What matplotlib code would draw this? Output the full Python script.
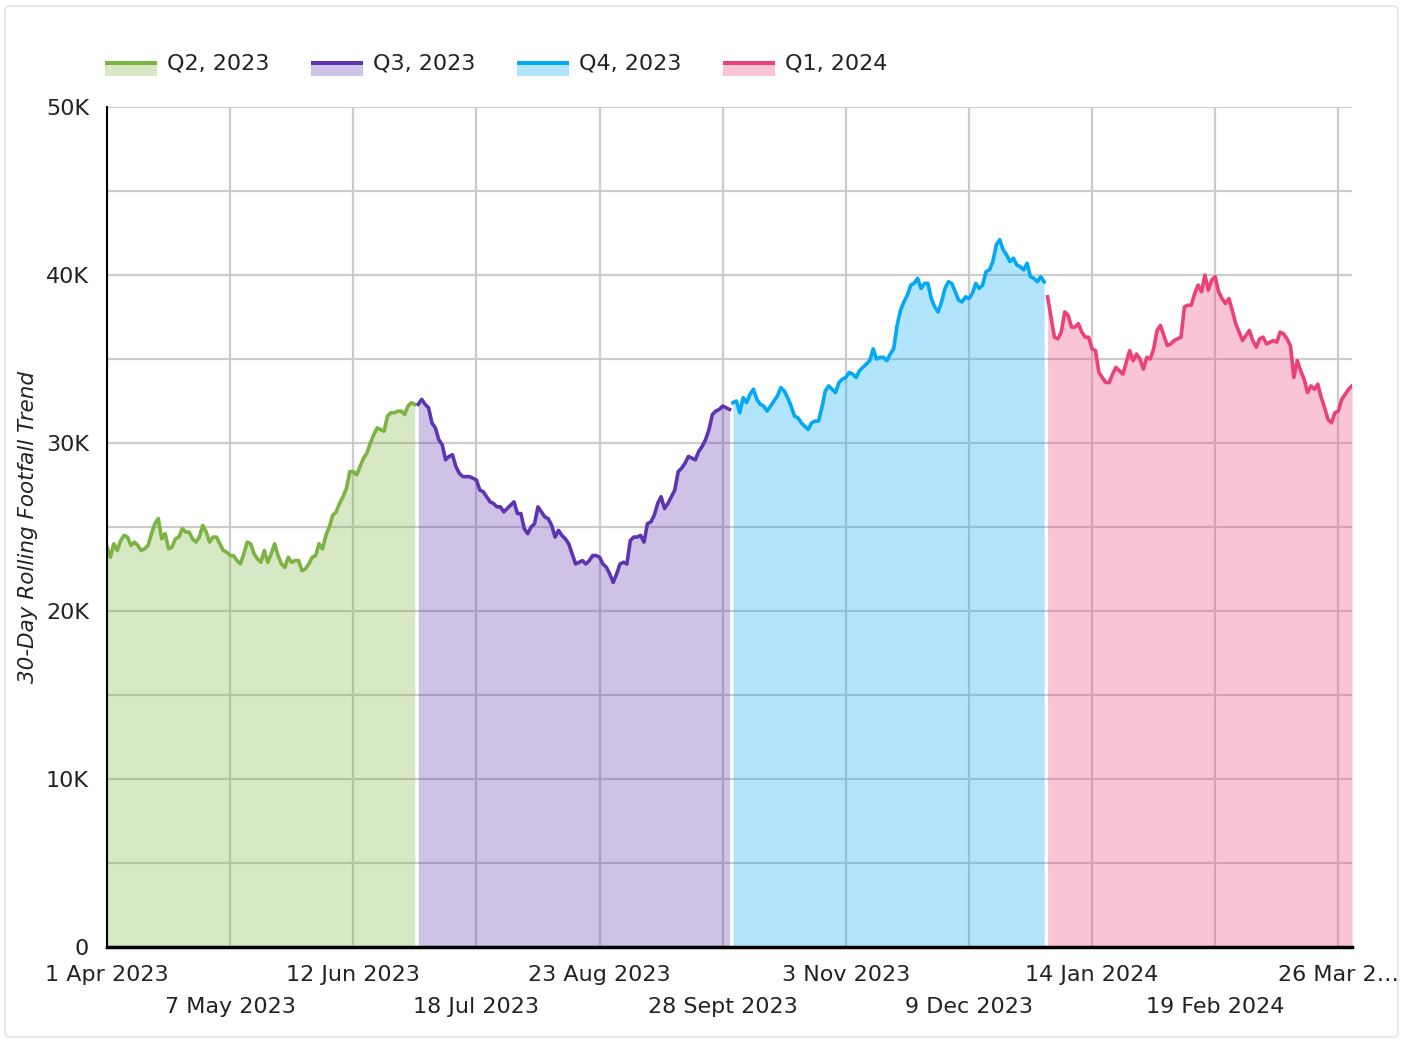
import numpy as np
import pandas as pd
import matplotlib
matplotlib.use('Agg')
import matplotlib.pyplot as plt
from matplotlib.patches import Rectangle, FancyBboxPatch

plt.rcParams['font.family'] = ['DejaVu Sans']

# quarters shown in the chart
quarters = ['Q2, 2023', 'Q3, 2023', 'Q4, 2023', 'Q1, 2024']
quarter_starts = ['2023-04-01', '2023-07-01', '2023-10-01', '2024-01-01']
colors = ['#7cb342', '#5e35b1', '#03a9f4', '#ec407a']

# 30-day rolling footfall, thousands, one value per day
q2_2023 = [23.8, 23.2, 24.0, 23.6, 24.2, 24.5, 24.4, 23.9, 24.1, 23.9, 23.6, 23.7, 23.9, 24.6, 25.2,
           25.5, 24.3, 24.6, 23.7, 23.8, 24.3, 24.4, 24.9, 24.7, 24.7, 24.3, 24.1, 24.4, 25.1, 24.7,
           24.1, 24.4, 24.4, 24.0, 23.6, 23.5, 23.3, 23.3, 23.0, 22.8, 23.4, 24.1, 24.0, 23.4, 23.1,
           22.9, 23.6, 22.9, 23.4, 24.0, 23.3, 22.8, 22.6, 23.2, 22.9, 23.0, 23.0, 22.4, 22.5, 22.8,
           23.2, 23.3, 24.0, 23.7, 24.5, 25.0, 25.7, 25.9, 26.4, 26.8, 27.3, 28.3, 28.3, 28.1, 28.6,
           29.1, 29.4, 30.0, 30.5, 30.9, 30.8, 30.7, 31.6, 31.8, 31.8, 31.9, 31.9, 31.7, 32.2, 32.4,
           32.3]
q3_2023 = [32.3, 32.6, 32.3, 32.1, 31.2, 30.9, 30.2, 29.9, 29.0, 29.2, 29.3, 28.6, 28.2, 28.0, 28.0,
           28.0, 27.9, 27.8, 27.2, 27.1, 26.8, 26.5, 26.4, 26.2, 26.2, 25.9, 26.1, 26.3, 26.5, 25.8,
           25.8, 24.9, 24.6, 25.0, 25.2, 26.2, 25.9, 25.6, 25.5, 25.1, 24.4, 24.8, 24.5, 24.3, 24.0,
           23.4, 22.8, 22.9, 23.0, 22.8, 23.0, 23.3, 23.3, 23.2, 22.8, 22.6, 22.2, 21.7, 22.2, 22.8,
           22.9, 22.8, 24.2, 24.4, 24.4, 24.5, 24.1, 25.2, 25.3, 25.7, 26.4, 26.8, 26.1, 26.4, 26.8,
           27.2, 28.3, 28.5, 28.8, 29.2, 29.1, 29.0, 29.5, 29.8, 30.2, 30.8, 31.7, 31.9, 32.0, 32.2,
           32.1, 32.0]
q4_2023 = [32.4, 32.5, 31.8, 32.7, 32.4, 32.9, 33.2, 32.6, 32.3, 32.2, 31.9, 32.2, 32.5, 32.8, 33.3,
           33.1, 32.7, 32.2, 31.6, 31.5, 31.2, 31.0, 30.8, 31.2, 31.3, 31.3, 32.1, 33.1, 33.4, 33.2,
           33.0, 33.6, 33.8, 33.9, 34.2, 34.1, 33.9, 34.3, 34.5, 34.7, 34.9, 35.6, 35.0, 35.1, 35.1,
           34.9, 35.3, 35.6, 37.0, 37.9, 38.4, 38.8, 39.4, 39.5, 39.8, 39.2, 39.5, 39.5, 38.6, 38.1,
           37.8, 38.4, 39.2, 39.6, 39.5, 39.0, 38.5, 38.4, 38.7, 38.6, 38.9, 39.5, 39.2, 39.4, 40.2,
           40.3, 40.8, 41.8, 42.1, 41.5, 41.2, 40.8, 41.0, 40.6, 40.5, 40.3, 40.7, 39.9, 39.8, 39.6,
           39.9, 39.6]
q1_2024 = [38.7, 37.5, 36.3, 36.2, 36.6, 37.8, 37.6, 36.9, 36.9, 37.1, 36.6, 36.3, 36.3, 35.6, 35.5,
           34.2, 33.9, 33.6, 33.6, 34.1, 34.5, 34.3, 34.1, 34.8, 35.5, 34.9, 35.3, 35.0, 34.4, 35.1,
           35.0, 35.6, 36.7, 37.0, 36.4, 35.8, 35.9, 36.1, 36.2, 36.3, 38.1, 38.2, 38.2, 38.9, 39.4,
           39.0, 40.0, 39.1, 39.7, 39.9, 39.0, 38.6, 38.3, 38.6, 37.9, 37.1, 36.6, 36.1, 36.4, 36.7,
           36.1, 35.7, 36.2, 36.3, 35.9, 36.0, 36.1, 36.0, 36.6, 36.5, 36.2, 35.8, 33.9, 34.9, 34.3,
           33.8, 33.0, 33.4, 33.2, 33.5, 32.7, 32.1, 31.4, 31.2, 31.8, 31.9, 32.6, 32.9, 33.2, 33.4]

tick_dates = ['2023-04-01', '2023-05-07', '2023-06-12', '2023-07-18', '2023-08-23', '2023-09-28',
              '2023-11-03', '2023-12-09', '2024-01-14', '2024-02-19', '2024-03-26']
tick_labels = ['1 Apr 2023', '7 May 2023', '12 Jun 2023', '18 Jul 2023', '23 Aug 2023',
               '28 Sept 2023', '3 Nov 2023', '9 Dec 2023', '14 Jan 2024', '19 Feb 2024',
               '26 Mar 2\u2026']
y_ticks = [0, 10000, 20000, 30000, 40000, 50000]
y_labels = ['0', '10K', '20K', '30K', '40K', '50K']

W, H = 1403, 1041
fig = plt.figure(figsize=(W / 100, H / 100), dpi=100)
fig.patch.set_facecolor('white')

# card outline
fig.add_artist(FancyBboxPatch((5 / W, 4 / H), (W - 10) / W, (H - 10) / H,
                              boxstyle='round,pad=0,rounding_size=0.004',
                              transform=fig.transFigure, fc='white', ec='#e8e8e8', lw=1.5,
                              zorder=-10))

ax = fig.add_axes([107 / W, 1 - 947 / H, (1352 - 107) / W, (947 - 107) / H])
ax.set_facecolor('none')

series = [q2_2023, q3_2023, q4_2023, q1_2024]
first, last = None, None
for start, vals, c in zip(quarter_starts, series, colors):
    dates = pd.date_range(start, periods=len(vals), freq='D')
    y = np.array(vals) * 1000
    ax.fill_between(dates, y, 0, color=c, alpha=0.3, lw=0, zorder=2)
    ax.plot(dates, y, color=c, lw=2.6, zorder=3)
    if first is None:
        first = dates[0]
    last = dates[-1]

ax.set_xlim(first, last)
ax.set_ylim(0, 50000)

ax.set_yticks(y_ticks)
ax.set_yticklabels(y_labels)
ax.set_yticks(np.arange(5000, 50000, 10000), minor=True)

# dates alternate between two rows: upper row on major ticks, lower row on minor ticks
tick_dates = pd.to_datetime(tick_dates)
ax.set_xticks(tick_dates[::2])
ax.set_xticklabels(tick_labels[::2])
ax.set_xticks(tick_dates[1::2], minor=True)
ax.set_xticklabels(tick_labels[1::2], minor=True)

ax.grid(True, which='both', color='#cccccc', lw=1.6)
ax.set_axisbelow(True)
ax.tick_params(which='both', length=0, labelsize=16, labelcolor='#222222')
ax.tick_params(axis='x', which='major', pad=13)
ax.tick_params(axis='x', which='minor', pad=36)
ax.tick_params(axis='y', pad=13)

for s in ['top', 'right']:
    ax.spines[s].set_visible(False)
ax.spines['left'].set_color('black')
ax.spines['left'].set_linewidth(1.5)
ax.spines['bottom'].set_color('black')
ax.spines['bottom'].set_linewidth(2.5)
ax.spines['left'].set_zorder(4)
ax.spines['bottom'].set_zorder(4)

fig.text(28 / W, 1 - 527 / H, '30-Day Rolling Footfall Trend', rotation=90, style='italic',
         fontsize=15.5, ha='center', va='center', color='#222222')

# legend: thick line on top of a light swatch
for i, (name, c) in enumerate(zip(quarters, colors)):
    x0 = 105 + 206 * i
    fig.add_artist(Rectangle((x0 / W, 1 - 76 / H), 52 / W, 12 / H, transform=fig.transFigure,
                             color=c, alpha=0.3, lw=0))
    fig.add_artist(Rectangle((x0 / W, 1 - 65 / H), 52 / W, 4 / H, transform=fig.transFigure,
                             color=c, lw=0))
    fig.text((x0 + 62) / W, 1 - 64 / H, name, fontsize=16, ha='left', va='center',
             color='#222222')

fig.savefig('out.png', dpi=100)
